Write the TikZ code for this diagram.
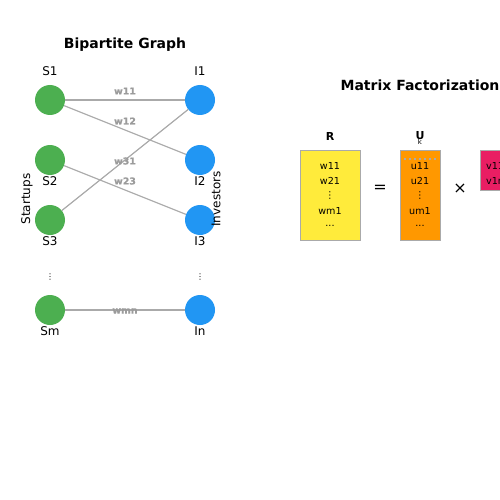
\documentclass[tikz,border=0pt]{standalone}
\usepackage{fontspec}
\setmainfont{DejaVu Sans}
\newfontfamily\wfont[FakeBold=0.6]{DejaVu Sans Bold}
\definecolor{cgreen}{RGB}{76,175,80}
\definecolor{cblue}{RGB}{33,150,243}
\definecolor{cedge}{RGB}{170,170,170}
\definecolor{clbl}{RGB}{155,155,155}
\definecolor{cyel}{RGB}{255,235,59}
\definecolor{corg}{RGB}{255,152,0}
\definecolor{cpink}{RGB}{233,30,99}
\begin{document}
\begin{tikzpicture}[x=1pt,y=-1pt,
  snode/.style={circle,fill=cgreen,minimum size=30pt,inner sep=0pt},
  inode/.style={circle,fill=cblue,minimum size=30pt,inner sep=0pt},
  lbl/.style={font=\fontsize{12}{14}\selectfont,inner sep=0pt},
  edge/.style={draw=cedge,line width=1.2pt},
  wlbl/.style={font=\fontsize{9.4}{11}\selectfont\wfont,text=clbl,inner sep=0pt},
  ttl/.style={font=\fontsize{14}{16}\selectfont\bfseries,inner sep=0pt},
  mat/.style={draw=cedge,line width=1.2pt,anchor=north west,inner sep=0pt},
  mtxt/.style={font=\fontsize{9.6}{11}\selectfont,inner sep=0pt},
  dotsl/.style={font=\fontsize{8}{10}\selectfont,inner sep=0pt}
]
\useasboundingbox[fill=white] (0,0) rectangle (500,500);
% titles
\node[ttl] (t1) at (125,45) {Bipartite Graph};
\node[ttl] (t2) at (420,85) {Matrix Factorization};
% nodes
\node[snode] (s1) at (50,100) {};
\node[snode] (s2) at (50,160) {};
\node[snode] (s3) at (50,220) {};
\node[snode] (sm) at (50,310) {};
\node[inode] (i1) at (200,100) {};
\node[inode] (i2) at (200,160) {};
\node[inode] (i3) at (200,220) {};
\node[inode] (in) at (200,310) {};
% edges
\draw[edge] (s1) -- (i1);
\draw[edge] (s1) -- (i2);
\draw[edge] (s2) -- (i3);
\draw[edge] (s3) -- (i1);
\draw[edge] (sm) -- (in);
% node labels
\node[lbl] (ls1) at (50,71) {S1};
\node[lbl] (ls2) at (50,181) {S2};
\node[lbl] (ls3) at (50,241) {S3};
\node[lbl] (lsm) at (50,331) {Sm};
\node[lbl] (li1) at (200,71) {I1};
\node[lbl] (li2) at (200,181) {I2};
\node[lbl] (li3) at (200,241) {I3};
\node[lbl] (lin) at (200,331) {In};
\node[dotsl] (ds) at (50,277) {⋮};
\node[dotsl] (di) at (200,277) {⋮};
\node[lbl,rotate=90] (st) at (27,199) {Startups};
\node[lbl,rotate=90] (iv) at (216,199) {Investors};
% edge labels
\node[wlbl] (w11) at (125,91) {w11};
\node[wlbl] (w12) at (125,121) {w12};
\node[wlbl] (w31) at (125,161) {w31};
\node[wlbl] (w23) at (125,181) {w23};
\node[wlbl] (wmn) at (125,311) {wmn};
% matrices
\node[mat,fill=cyel,minimum width=60pt,minimum height=90pt] (R) at (300,150) {};
\node[mat,fill=corg,minimum width=40pt,minimum height=90pt] (U) at (400,150) {};
\node[mat,fill=cpink,minimum width=40pt,minimum height=40pt] (V) at (480,150) {};
\node[ttl,font=\fontsize{11}{13}\selectfont\bfseries] (Rl) at (330,136) {R};
\node[ttl,font=\fontsize{11}{13}\selectfont\bfseries] (Ul) at (420,136) {U};
\node[mtxt,font=\fontsize{7}{8}\selectfont] (kl) at (420,142) {k};
\draw[cedge,line width=1.2pt,dash pattern=on 2pt off 3pt] ([xshift=4pt,yshift=-9pt]U.north west) -- ([xshift=-4pt,yshift=-9pt]U.north east);
\node[mtxt] (r1) at (330,166) {w11};
\node[mtxt] (r2) at (330,181) {w21};
\node[mtxt] (r3) at (330,196) {⋮};
\node[mtxt] (r4) at (330,211) {wm1};
\node[mtxt] (r5) at (330,226) {...};
\node[mtxt] (u1) at (420,166) {u11};
\node[mtxt] (u2) at (420,181) {u21};
\node[mtxt] (u3) at (420,196) {⋮};
\node[mtxt] (u4) at (420,211) {um1};
\node[mtxt] (u5) at (420,226) {...};
\node[mtxt,anchor=west] (v1) at (486,166) {v11};
\node[mtxt,anchor=west] (v2) at (486,181) {v1n};
\node[lbl,font=\fontsize{16}{18}\selectfont] (eq) at (380,189) {=};
\node[lbl,font=\fontsize{16}{18}\selectfont] (tm) at (460,189) {×};
\end{tikzpicture}
\end{document}
